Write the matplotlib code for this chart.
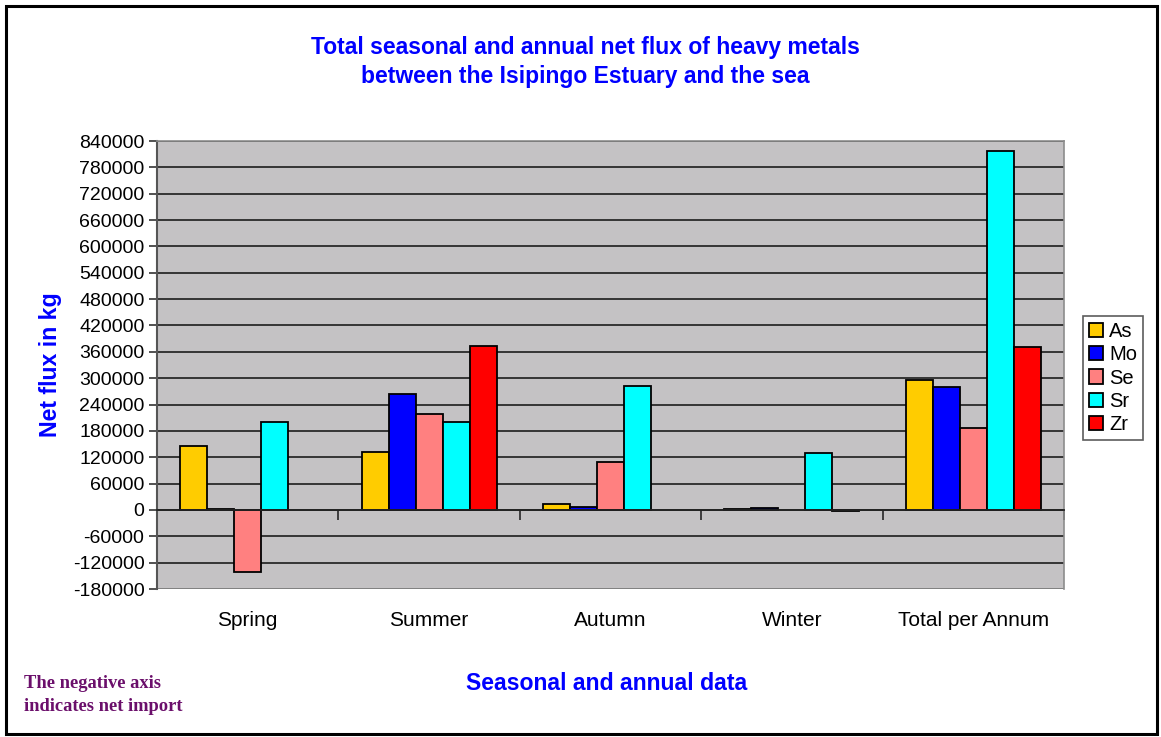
import numpy as np
import matplotlib
matplotlib.use("Agg")
import matplotlib.pyplot as plt
from matplotlib.patches import Rectangle
import matplotlib.transforms as mtransforms

# Net flux (kg) between the Isipingo Estuary and the sea
categories = ["Spring", "Summer", "Autumn", "Winter", "Total per Annum"]
metals = ["As", "Mo", "Se", "Sr", "Zr"]
as_vals = [146000, 132000, 13600, 2000, 296700]
mo_vals = [3000, 263000, 7500, 5000, 280000]
se_vals = [-141000, 218600, 109700, np.nan, 187700]
sr_vals = [201000, 201000, 283000, 130000, 817000]
zr_vals = [np.nan, 374000, np.nan, -3000, 370700]
y_ticks = list(range(-180000, 840001, 60000))

series = [as_vals, mo_vals, se_vals, sr_vals, zr_vals]
colors = ["#FFCC00", "#0000FF", "#FF8080", "#00FFFF", "#FF0000"]

plt.rcParams["font.family"] = ["Liberation Sans", "DejaVu Sans"]

W, H = 1161, 737
fig = plt.figure(figsize=(W / 100, H / 100), dpi=100)
fig.patch.set_facecolor("white")

ax = fig.add_axes([157 / W, 1 - 589 / H, (1064 - 157) / W, (589 - 141) / H])
ax.set_facecolor("#C4C2C4")

x = np.arange(len(categories))
bw = 0.149
for i, (vals, col, name) in enumerate(zip(series, colors, metals)):
    ax.bar(x + (i - 2) * bw, vals, width=bw, color=col, edgecolor="black",
           linewidth=1.3, label=name, zorder=3)

ax.set_xlim(-0.5, len(categories) - 0.5)
ax.set_ylim(y_ticks[0], y_ticks[-1])
ax.set_yticks(y_ticks)
ax.set_yticklabels([str(v) for v in y_ticks], fontsize=14)
ax.yaxis.grid(True, color="#2A2A2A", linewidth=1.3, zorder=1)
ax.set_axisbelow(True)
ax.tick_params(axis="y", direction="out", length=6, width=1.2, color="#333333", pad=3)

# Category axis crosses at zero, with boundary ticks
ax.spines["bottom"].set_position(("data", 0))
ax.spines["bottom"].set_color("#222222")
ax.spines["bottom"].set_linewidth(1.3)
ax.spines["bottom"].set_zorder(4)
ax.set_xticks(np.arange(-0.5, len(categories), 1.0))
ax.set_xticklabels([])
ax.tick_params(axis="x", direction="out", length=7, width=1.3, color="#333333")
for s in ["top", "right"]:
    ax.spines[s].set_color("#8C8C8C")
    ax.spines[s].set_linewidth(1.2)
ax.spines["left"].set_color("#555555")
ax.spines["left"].set_linewidth(1.5)
# bottom frame of the plot area
ax.axhline(y_ticks[0], color="#8C8C8C", linewidth=2.0, zorder=2)

trans = mtransforms.blended_transform_factory(ax.transData, fig.transFigure)
for xi, lab in zip(x, categories):
    ax.text(xi, 1 - 620 / H, lab, transform=trans, ha="center", va="center",
            fontsize=15, color="black")

fig.text(585 / W, 1 - 62 / H,
         "Total seasonal and annual net flux of heavy metals\nbetween the Isipingo Estuary and the sea",
         ha="center", va="center", fontsize=16.5, fontweight="bold", color="#0000FF",
         linespacing=1.3)
fig.text(50 / W, 1 - 365 / H, "Net flux in kg", rotation=90, ha="center", va="center",
         fontsize=16.7, fontweight="bold", color="#0000FF")
fig.text(607 / W, 1 - 683 / H, "Seasonal and annual data", ha="center", va="center",
         fontsize=16.6, fontweight="bold", color="#0000FF")
fig.text(24 / W, 1 - 695 / H, "The negative axis\nindicates net import", ha="left",
         va="center", fontsize=13.3, fontweight="bold", color="#6B0F6B",
         family=["Liberation Serif", "DejaVu Serif"], linespacing=1.45)

leg = fig.legend(loc="center", bbox_to_anchor=(1113 / W, 1 - 378 / H), fontsize=14.5,
                 frameon=True, fancybox=False, edgecolor="#333333", handlelength=0.7,
                 handleheight=0.7, handletextpad=0.3, labelspacing=0.22,
                 borderpad=0.3, borderaxespad=0)
leg.get_frame().set_linewidth(1.2)

fig.patches.append(Rectangle((6 / W, 3 / H), (1157 - 6) / W, (731 - 3) / H,
                             transform=fig.transFigure, fill=False,
                             edgecolor="black", linewidth=2.2))

fig.savefig("out.png", dpi=100, facecolor="white")
